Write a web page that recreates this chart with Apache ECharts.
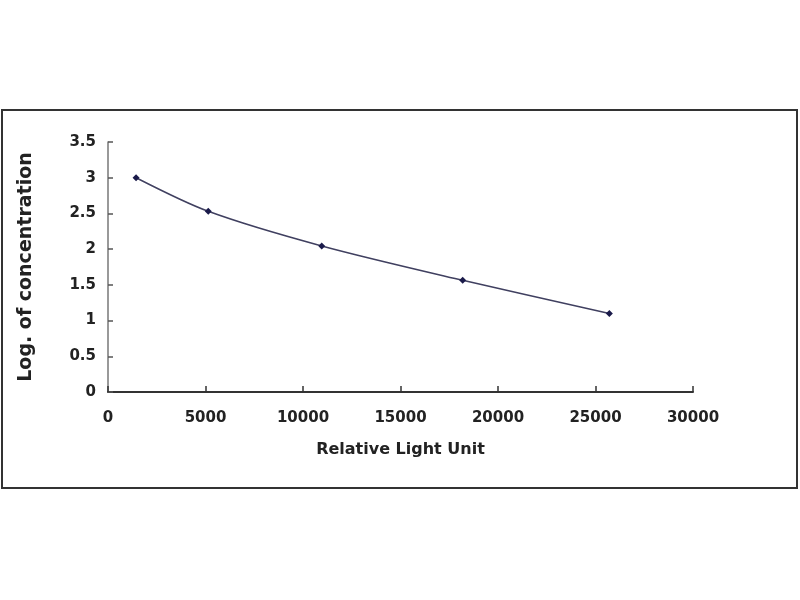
<!DOCTYPE html>
<html>
<head>
<meta charset="utf-8">
<script src="https://cdn.jsdelivr.net/npm/echarts@6/dist/echarts.min.js"></script>
<style>html,body{margin:0;padding:0;background:#fff}#c{width:800px;height:600px}</style>
</head>
<body>
<div id="c"></div>
<script>
var rlu = [1440, 5140, 10960, 18190, 25710];
var logConc = [3.0, 2.53, 2.045, 1.564, 1.098];
var xTicks = [0, 5000, 10000, 15000, 20000, 25000, 30000];
var yTicks = [0, 0.5, 1, 1.5, 2, 2.5, 3, 3.5];
var xTitle = 'Relative Light Unit';
var yTitle = 'Log. of concentration';

var chart = echarts.init(document.getElementById('c'));
var font = 'DejaVu Sans, sans-serif';
chart.setOption({
  animation: false,
  backgroundColor: '#fff',
  graphic: [{
    type: 'rect',
    shape: {x: 2, y: 110, width: 795, height: 378},
    style: {fill: 'none', stroke: '#333', lineWidth: 2},
    silent: true
  }],
  grid: {left: 108, right: 107, top: 142, bottom: 208, containLabel: false},
  xAxis: {
    type: 'value', min: xTicks[0], max: xTicks[xTicks.length - 1], interval: 5000,
    name: xTitle, nameLocation: 'middle', nameGap: 50,
    nameTextStyle: {fontFamily: font, fontWeight: 'bold', fontSize: 16, color: '#222'},
    axisLine: {show: true, lineStyle: {color: '#333', width: 2}},
    axisTick: {show: true, inside: true, length: 6, lineStyle: {color: '#333', width: 1.5}},
    axisLabel: {fontFamily: font, fontWeight: 'bold', fontSize: 15, color: '#222', margin: 19,
      formatter: function (v) { return String(v); }},
    splitLine: {show: false}
  },
  yAxis: {
    type: 'value', min: yTicks[0], max: yTicks[yTicks.length - 1], interval: 0.5,
    name: yTitle, nameLocation: 'middle', nameGap: 72, nameRotate: 90,
    nameTextStyle: {fontFamily: font, fontWeight: 'bold', fontSize: 19, color: '#222'},
    axisLine: {show: true, lineStyle: {color: '#777', width: 1.5}},
    axisTick: {show: true, inside: true, length: 5, lineStyle: {color: '#555', width: 1.5}},
    axisLabel: {fontFamily: font, fontWeight: 'bold', fontSize: 15, color: '#222', margin: 12,
      formatter: function (v) { return String(v); }},
    splitLine: {show: false}
  },
  series: [{
    type: 'line',
    data: rlu.map(function (x, i) { return [x, logConc[i]]; }),
    smooth: 0.3,
    symbol: 'diamond',
    symbolSize: 7,
    itemStyle: {color: '#1a1a4a'},
    lineStyle: {color: '#404060', width: 1.5}
  }]
});
</script>
</body>
</html>
